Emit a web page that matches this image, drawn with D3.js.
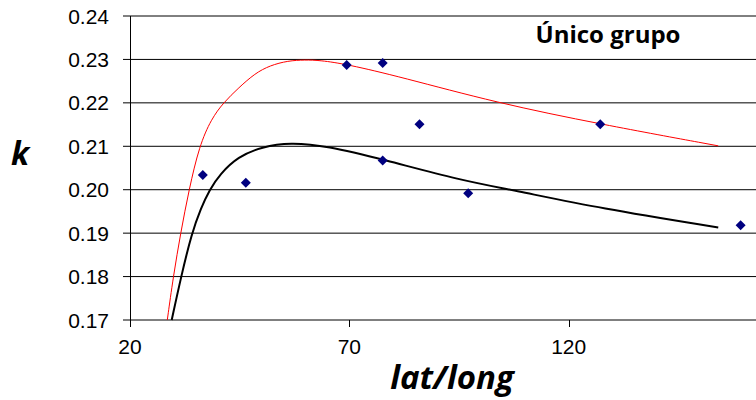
<!DOCTYPE html>
<html><head><meta charset="utf-8">
<script src="https://cdn.jsdelivr.net/npm/d3@7"></script>
<style>body{margin:0;background:#fff}svg{display:block}</style>
</head><body>
<svg id="c" width="756" height="400"></svg>
<script>
const xTicks = [20, 70, 120, 170];
const yTicks = [0.17, 0.18, 0.19, 0.20, 0.21, 0.22, 0.23, 0.24];
const pointsX = [36.6, 46.4, 69.4, 77.6, 77.6, 86.0, 97.1, 127.2, 159.2];
const pointsY = [0.2034, 0.2016, 0.2287, 0.2292, 0.2067, 0.2151, 0.1992, 0.2151, 0.1918];
const redX = [28.5, 29.87, 31.56, 33.45, 35.8, 38.54, 41.27, 44.8, 48.5, 51.9, 56.0, 59.9, 63.3, 69.4, 81.56, 103.6, 127.2, 154.1];
const redY = [0.170, 0.180, 0.1901, 0.2000, 0.2101, 0.2163, 0.2200, 0.2235, 0.2268, 0.2286, 0.2297, 0.2299, 0.2298, 0.2289, 0.2260, 0.2200, 0.2151, 0.2101];
const blackX = [29.51, 31.63, 34.07, 36.2, 38.08, 40.52, 44.6, 50.1, 56.48, 64.85, 77.61, 95.24, 107.4, 127.2, 154.1];
const blackY = [0.170, 0.1799, 0.1900, 0.1958, 0.1999, 0.2036, 0.2076, 0.2099, 0.2109, 0.2101, 0.2070, 0.2022, 0.1999, 0.1957, 0.1913];
const title = "Único grupo";
const xLabel = "lat/long";
const yLabel = "k";

const svg = d3.select("#c");
const x = d3.scaleLinear().domain([20, 170]).range([130, 788]);
const y = d3.scaleLinear().domain([0.17, 0.24]).range([320, 16]);
const W = 756;

// gridlines
svg.append("g").selectAll("line").data(yTicks).join("line")
  .attr("x1", 123).attr("x2", W).attr("y1", d => y(d)).attr("y2", d => y(d))
  .attr("stroke", "#000").attr("stroke-width", 1);

// y axis line
svg.append("line").attr("x1", 130.5).attr("x2", 130.5).attr("y1", y(0.24)).attr("y2", y(0.17) + 7)
  .attr("stroke", "#000");

// y tick labels
svg.append("g").selectAll("text").data(yTicks).join("text")
  .attr("x", 109).attr("y", d => y(d)).attr("dy", "0.36em")
  .attr("text-anchor", "end").attr("font-family", "Liberation Sans, Arial, sans-serif")
  .attr("font-size", 21).attr("fill", "#000").text(d => d3.format(".2f")(d));

// x ticks
svg.append("g").selectAll("line").data(xTicks.filter(d => x(d) < W)).join("line")
  .attr("x1", d => Math.round(x(d)) + 0.5).attr("x2", d => Math.round(x(d)) + 0.5)
  .attr("y1", y(0.17)).attr("y2", y(0.17) + 7).attr("stroke", "#000");
svg.append("g").selectAll("text").data(xTicks.filter(d => x(d) < W)).join("text")
  .attr("x", d => x(d)).attr("y", 354)
  .attr("text-anchor", "middle").attr("font-family", "Liberation Sans, Arial, sans-serif")
  .attr("font-size", 21).attr("fill", "#000").text(d => d);

// curves
const line = d3.line().x(d => x(d[0])).y(d => y(d[1])).curve(d3.curveBasis);
svg.append("path").attr("d", line(redX.map((v, i) => [v, redY[i]])))
  .attr("fill", "none").attr("stroke", "#ff0000").attr("stroke-width", 1);
svg.append("path").attr("d", line(blackX.map((v, i) => [v, blackY[i]])))
  .attr("fill", "none").attr("stroke", "#000").attr("stroke-width", 2);

// points
svg.append("g").selectAll("path").data(pointsX.map((v, i) => [v, pointsY[i]])).join("path")
  .attr("transform", d => `translate(${x(d[0])},${y(d[1])})`)
  .attr("d", "M0,-5L5,0L0,5L-5,0Z").attr("fill", "#000080");

// title
svg.append("text").attr("x", 608).attr("y", 43).attr("text-anchor", "middle")
  .attr("font-family", "Open Sans, sans-serif").attr("font-weight", "bold")
  .attr("font-size", 24).attr("fill", "#000").text(title);

// axis labels
svg.append("text").attr("x", 20).attr("y", 165).attr("text-anchor", "middle")
  .attr("font-family", "Open Sans, sans-serif").attr("font-weight", "bold").attr("font-style", "italic")
  .attr("font-size", 32).attr("fill", "#000").text(yLabel);
svg.append("text").attr("x", 452).attr("y", 389).attr("text-anchor", "middle")
  .attr("font-family", "Open Sans, sans-serif").attr("font-weight", "bold").attr("font-style", "italic")
  .attr("font-size", 33).attr("fill", "#000").text(xLabel);
</script>
</body></html>
